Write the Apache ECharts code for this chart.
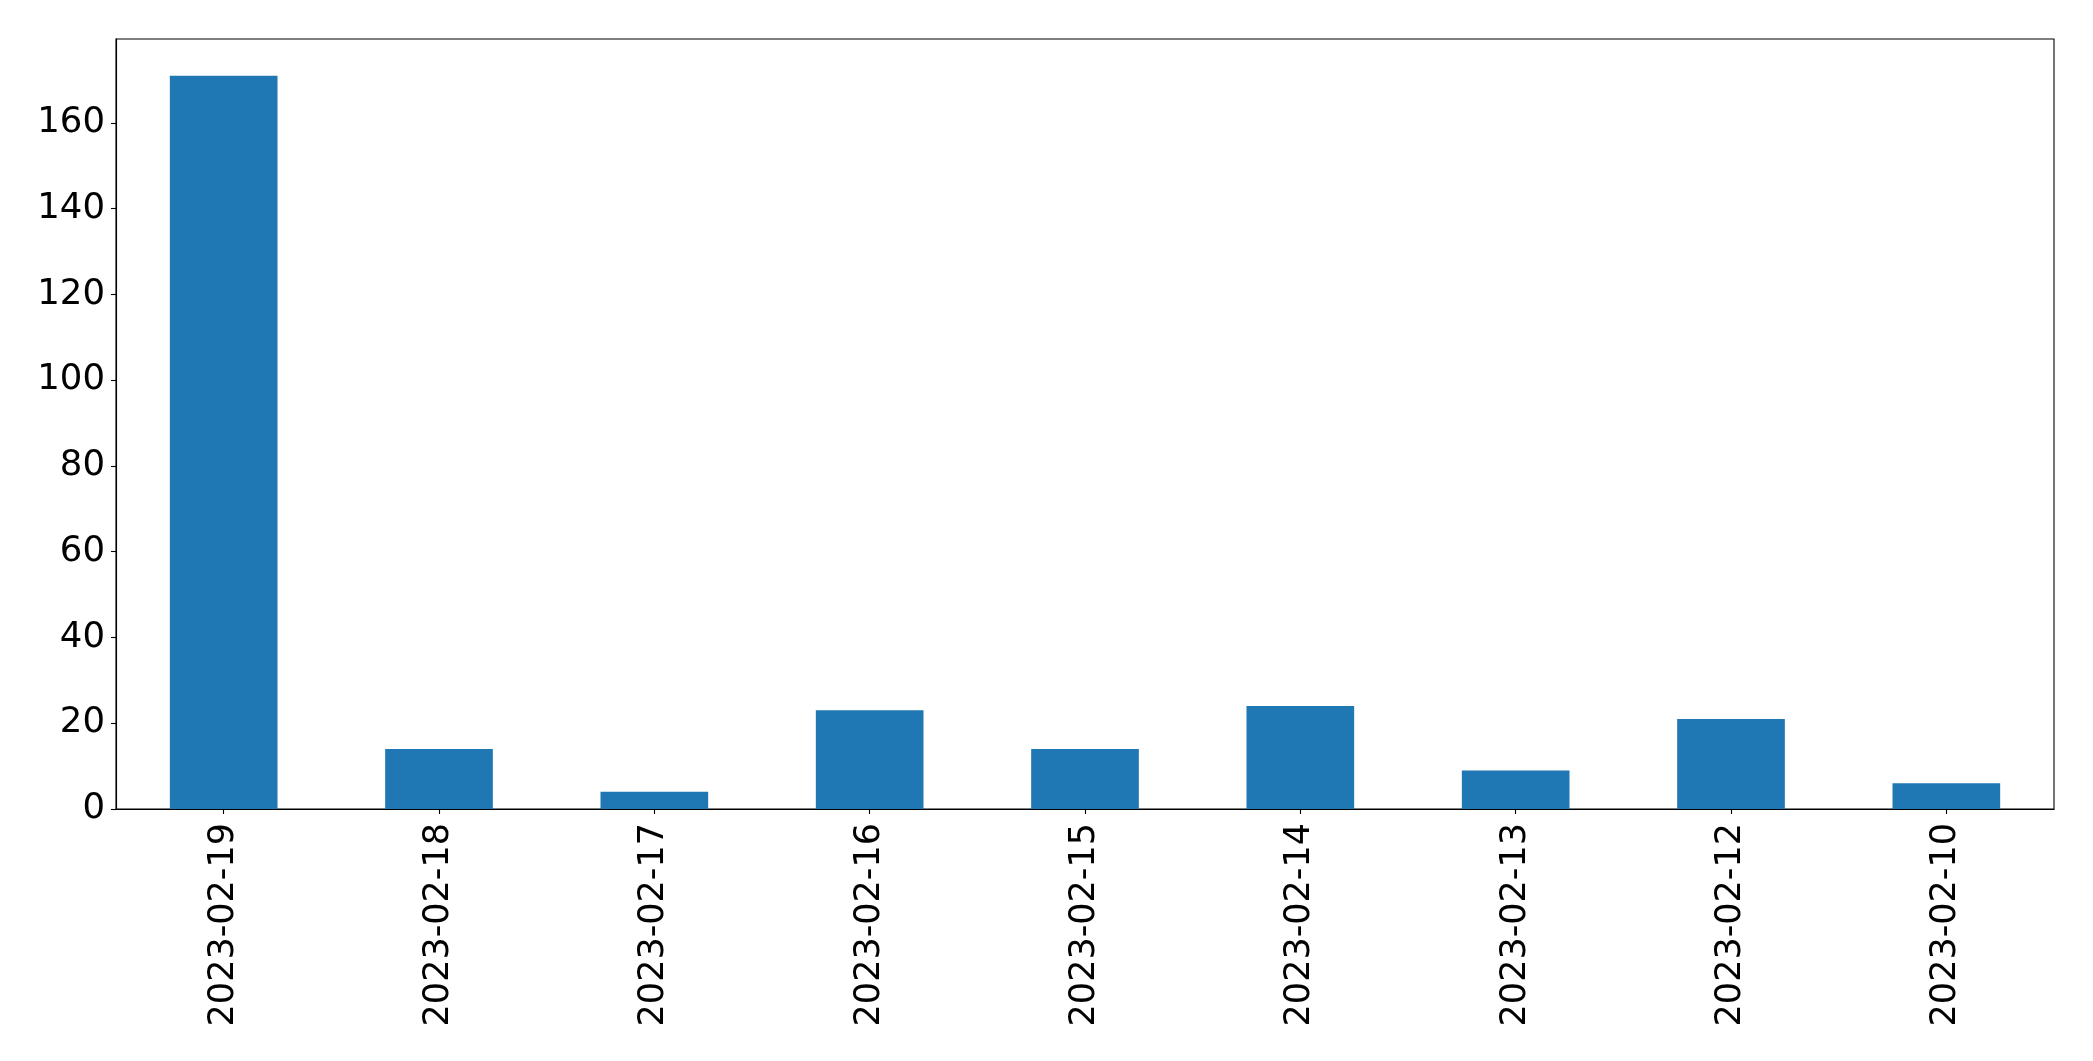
<!DOCTYPE html>
<html>
<head>
<meta charset="utf-8">
<script src="https://cdn.jsdelivr.net/npm/echarts@6/dist/echarts.min.js"></script>
<style>html,body{margin:0;padding:0;background:#fff;}#c{width:2093px;height:1061px;}</style>
</head>
<body>
<div id="c"></div>
<script>
const categories = ['2023-02-19','2023-02-18','2023-02-17','2023-02-16','2023-02-15','2023-02-14','2023-02-13','2023-02-12','2023-02-10'];
const values = [171, 14, 4, 23, 14, 24, 9, 21, 6];
const yTicks = [0, 20, 40, 60, 80, 100, 120, 140, 160];

const chart = echarts.init(document.getElementById('c'), null, {renderer: 'canvas'});
const font = 'DejaVu Sans';
chart.setOption({
  animation: false,
  backgroundColor: '#ffffff',
  grid: {left: 116, right: 39, top: 39, bottom: 252, show: true, borderColor: '#000', borderWidth: 1.1, containLabel: false},
  xAxis: {
    type: 'category',
    data: categories,
    boundaryGap: true,
    axisLine: {show: true, lineStyle: {color: '#000', width: 1.1}},
    axisTick: {show: true, alignWithLabel: true, length: 5, lineStyle: {color: '#000', width: 1.1}},
    axisLabel: {rotate: 90, margin: 14, fontFamily: font, fontSize: 35, color: '#000', interval: 0},
    splitLine: {show: false}
  },
  yAxis: {
    type: 'value',
    min: 0,
    max: 179.55,
    interval: 20,
    axisLine: {show: true, lineStyle: {color: '#000', width: 1.1}},
    axisTick: {show: true, length: 5, lineStyle: {color: '#000', width: 1.1}, customValues: yTicks},
    axisLabel: {margin: 11, fontFamily: font, fontSize: 35.5, color: '#000', customValues: yTicks, padding: [5, 0, 0, 0]},
    splitLine: {show: false}
  },
  series: [{
    type: 'bar',
    data: values,
    barWidth: '50%',
    itemStyle: {color: '#1f77b4'}
  }]
});
</script>
</body>
</html>
